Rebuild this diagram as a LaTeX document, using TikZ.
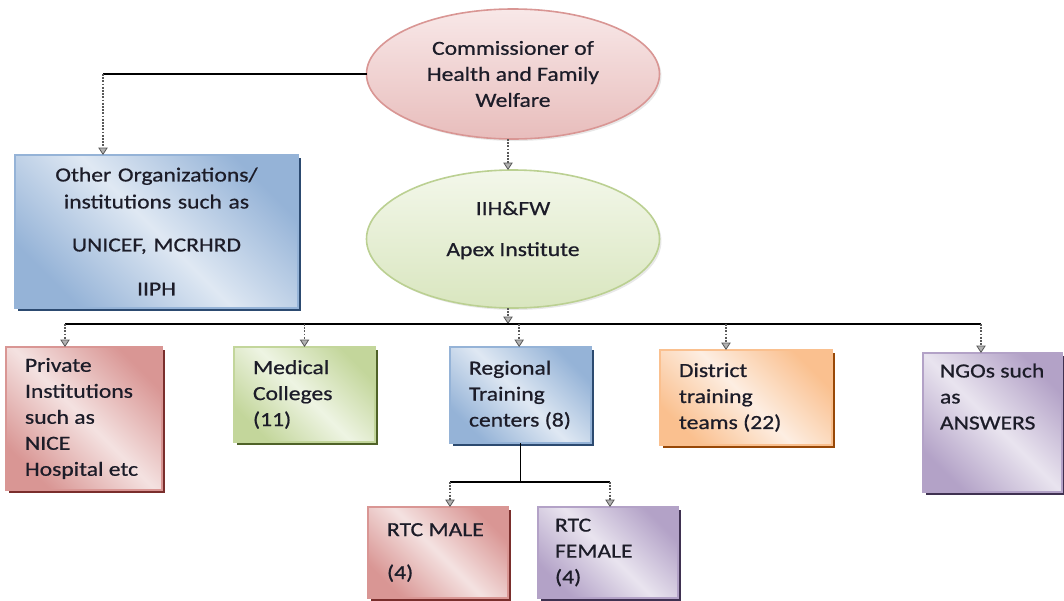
\documentclass[tikz,border=0pt]{standalone}
\usepackage{fontspec}
\setmainfont{Carlito}[FakeStretch=1.18,FakeBold=0.7]
\usetikzlibrary{shapes.geometric,shadows,arrows.meta,calc}
\definecolor{pinkD}{HTML}{D99694}
\definecolor{pinkL}{HTML}{F4E2E1}
\definecolor{pinkS}{HTML}{7A2E2C}
\definecolor{greenD}{HTML}{C3D69B}
\definecolor{greenL}{HTML}{EEF4E3}
\definecolor{greenS}{HTML}{4F6228}
\definecolor{blueD}{HTML}{95B3D7}
\definecolor{blueL}{HTML}{DFE8F3}
\definecolor{blueS}{HTML}{2C4A70}
\definecolor{orangeD}{HTML}{FAC08F}
\definecolor{orangeL}{HTML}{FDEEE2}
\definecolor{orangeS}{HTML}{984807}
\definecolor{purpD}{HTML}{B3A2C7}
\definecolor{purpL}{HTML}{E9E4EF}
\definecolor{purpS}{HTML}{3F3151}
\definecolor{commT}{HTML}{F8E8E8}
\definecolor{commB}{HTML}{E8BDBC}
\definecolor{commE}{HTML}{D99694}
\definecolor{iihT}{HTML}{F3F7EA}
\definecolor{iihB}{HTML}{D9E6BF}
\definecolor{iihE}{HTML}{BBD092}
\definecolor{txt}{HTML}{1C1C28}
\begin{document}
\begin{tikzpicture}[x=0.75pt,y=-0.75pt,
  every node/.style={font=\fontsize{15}{19.5}\selectfont, text=txt, outer sep=0pt},
  tbox/.style n args={3}{rectangle, draw=#1, line width=1.1pt,
    top color=#1, bottom color=#1, middle color=#2, shading angle=-45,
    general shadow={fill=#3, shadow xshift=2.25pt, shadow yshift=-2.25pt},
    anchor=north west, inner xsep=14.25pt, inner ysep=0pt, align=flush left},
  oval/.style n args={3}{ellipse, draw=#3, line width=1.2pt,
    top color=#1, bottom color=#2, inner sep=0pt, align=center,
    drop shadow={shadow xshift=1.5pt, shadow yshift=-1.5pt, opacity=0.18}},
  bus/.style={draw=black, line width=1.1pt},
  drop/.style={draw=black!65, line width=1.4pt, densely dotted,
    -{Triangle[width=7pt,length=5.5pt,fill=black!30,color=black!65,line width=0.6pt]}}
]
\useasboundingbox (0,0) rectangle (1064,600);

% ellipses
\node[oval={commT}{commB}{commE}, minimum width=219.75pt, minimum height=97.5pt] (comm) at (513,74)
  {Commissioner of\\Health and Family\\Welfare};
\node[oval={iihT}{iihB}{iihE}, minimum width=219.75pt, minimum height=103.5pt] (iih) at (513,239)
  {IIH\&FW\\[11.25pt]Apex Institute\\[-4pt]\mbox{}};

% other organizations
\node[tbox={blueD}{blueL}{blueS}, inner xsep=7.5pt, align=center,
  minimum width=212.25pt, minimum height=114.75pt, text width=197.25pt] (other) at (15,155)
  {Other Organizations/\\[0.75pt]institutions such as\\[12.75pt]UNICEF, MCRHRD\\[13.5pt]IIPH};

% second level
\node[tbox={pinkD}{pinkL}{pinkS}, minimum width=117pt, minimum height=107.25pt, text width=88.5pt] (priv) at (6,347)
  {Private\\Institutions\\such~as\\NICE\\Hospital~etc};
\node[tbox={greenD}{greenL}{greenS}, minimum width=105.75pt, minimum height=71.25pt, text width=77.25pt] (med) at (234,347)
  {Medical\\Colleges\\(11)};
\node[tbox={blueD}{blueL}{blueS}, minimum width=105.75pt, minimum height=72pt, text width=77.25pt] (reg) at (450,347)
  {Regional\\Training\\centers~(8)};
\node[tbox={orangeD}{orangeL}{orangeS}, minimum width=129pt, minimum height=71.25pt, text width=100.5pt] (dist) at (660,350)
  {District\\training\\teams~(22)};
\node[tbox={purpD}{purpL}{purpS}, inner xsep=12.75pt, minimum width=104.25pt, minimum height=104.25pt, text width=78.75pt] (ngo) at (923,353)
  {NGOs~such\\as\\ANSWERS\\\mbox{}\\\mbox{}};

% third level
\node[tbox={pinkD}{pinkL}{pinkS}, minimum width=105pt, minimum height=68.25pt, text width=76.5pt] (male) at (368,507)
  {RTC~MALE\\[12.75pt](4)};
\node[tbox={purpD}{purpL}{purpS}, inner xsep=12.75pt, minimum width=105pt, minimum height=68.25pt, text width=79.5pt] (female) at (538,507)
  {RTC\\FEMALE\\(4)};

% connectors
\coordinate (otop) at (103,155);
\draw[bus] (comm.west) -- (comm.west -| otop) coordinate (k1);
\draw[drop] (k1) -- (other.north -| otop);
\draw[drop] ([xshift=-3.75pt]comm.south) -- ([xshift=-3.75pt]iih.north);

\coordinate (busL) at (65,324);
\coordinate (busR) at (981,324);
\draw[drop] ([xshift=-3.75pt]iih.south) -- ([xshift=-3.75pt]iih.south |- busL);
\draw[bus] (busL) -- (busR);
\draw[drop] (busL) -- (busL |- priv.north);
\draw[drop] (med.north |- busL) -- (med.north);
\draw[drop] ([xshift=-1pt]reg.north |- busL) -- ([xshift=-1pt]reg.north);
\coordinate (dtop) at (726,350);
\draw[drop] (dtop |- busL) -- (dist.north -| dtop);
\draw[drop] (busR) -- (busR |- ngo.north);

\coordinate (rL) at (450,482);
\coordinate (rR) at (610,482);
\draw[bus] (reg.south) -- (reg.south |- rL);
\draw[bus] (rL) -- (rR);
\draw[drop] (rL) -- (rL |- male.north);
\draw[drop] (rR) -- (rR |- female.north);
\end{tikzpicture}
\end{document}
